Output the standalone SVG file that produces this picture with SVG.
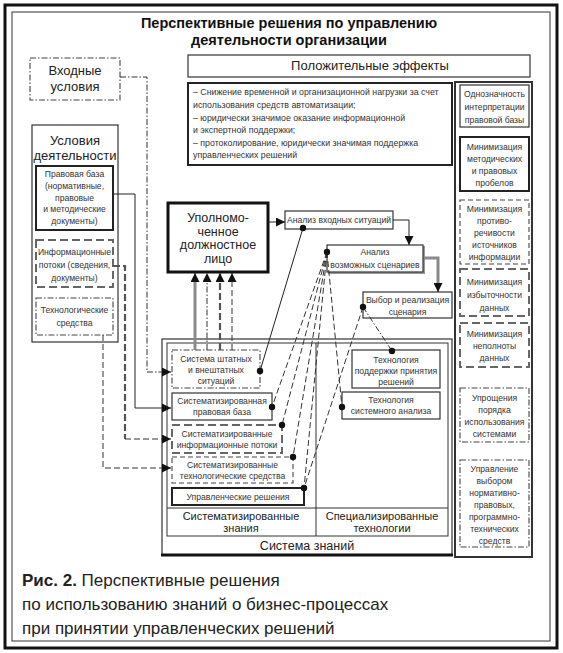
<svg xmlns="http://www.w3.org/2000/svg" width="563" height="653" viewBox="0 0 563 653">
<defs>
<marker id="ah" viewBox="0 0 10 10" refX="10" refY="5" markerWidth="9" markerHeight="9" orient="auto" markerUnits="userSpaceOnUse"><path d="M0,0 L10,5 L0,10 z" fill="#111"/></marker>
<style>
.t{font-family:"Liberation Sans",Arial,sans-serif;fill:#222;text-anchor:middle}
.title{font-family:"Liberation Sans",Arial,sans-serif;font-weight:bold;font-size:14.5px;fill:#111;text-anchor:middle}
.m{font-size:13px}
.u{font-size:12.5px}
.s{font-family:"Liberation Sans",Arial,sans-serif;font-size:8.6px;fill:#333;text-anchor:middle}
.sl{font-family:"Liberation Sans",Arial,sans-serif;font-size:8.8px;fill:#333}
.cap{font-family:"Liberation Sans",Arial,sans-serif;font-size:17px;fill:#222}
.b{fill:#fff;stroke:#333;stroke-width:1.2}
.bt{fill:#fff;stroke:#222;stroke-width:2}
.dd{fill:#fff;stroke:#444;stroke-width:1.1;stroke-dasharray:6 2 1.5 2}
.ds{fill:#fff;stroke:#444;stroke-width:1.1;stroke-dasharray:5 3}
.dk{fill:#fff;stroke:#666;stroke-width:2;stroke-dasharray:8 4}
.c{fill:none;stroke:#222;stroke-width:1}
.cdd{fill:none;stroke:#333;stroke-width:1;stroke-dasharray:6 2 1.5 2}
.cds{fill:none;stroke:#333;stroke-width:1;stroke-dasharray:6 3}
.cdk{fill:none;stroke:#555;stroke-width:2.2;stroke-dasharray:7 3}
.cg{fill:none;stroke:#8a8a8a;stroke-width:3}
.dot{fill:#111}
</style>
</defs>
<rect width="563" height="653" fill="#fff"/>
<g id="frame">
<rect x="5" y="5" width="552" height="643" fill="none" stroke="#111" stroke-width="3"/>
<rect x="12" y="12" width="538" height="629" fill="none" stroke="#333" stroke-width="1"/>
</g>
<g id="title">
<text x="289" y="28" class="title">Перспективные решения по управлению</text>
<text x="289" y="45" class="title">деятельности организации</text>
</g>
<g id="vhodnye">
<rect x="30" y="58" width="90" height="42" class="dd" stroke-width="1.4"/>
<text x="75" y="75" class="t m">Входные</text>
<text x="75" y="91" class="t m">условия</text>
</g>
<g id="polozh">
<rect x="188" y="55" width="342" height="22" class="b"/>
<text x="370" y="70" class="t m">Положительные эффекты</text>
</g>
<g id="effects">
<rect x="188" y="83" width="264" height="82" class="bt"/>
<text x="193" y="95" class="sl">– Снижение временной и организационной нагрузки за счет</text>
<text x="193" y="108" class="sl">использования средств автоматизации;</text>
<text x="193" y="120.5" class="sl">– юридически значимое оказание информационной</text>
<text x="193" y="133" class="sl">и экспертной поддержки;</text>
<text x="193" y="145.5" class="sl">– протоколирование, юридически значимая поддержка</text>
<text x="193" y="158" class="sl">управленческих решений</text>
</g>
<g id="right-column">
<rect x="455" y="82" width="77" height="475" fill="none" stroke="#333" stroke-width="2"/>
</g>
<g id="r1">
<rect x="460" y="85" width="69" height="42" class="b" stroke-width="1.5"/>
<text x="494.5" y="97" class="s">Однозначность</text>
<text x="494.5" y="110" class="s">интерпретации</text>
<text x="494.5" y="123" class="s">правовой базы</text>
</g>
<g id="r2">
<rect x="460" y="137" width="69" height="54" class="bt"/>
<text x="494.5" y="150" class="s">Минимизация</text>
<text x="494.5" y="162" class="s">методических</text>
<text x="494.5" y="174" class="s">и правовых</text>
<text x="494.5" y="186" class="s">пробелов</text>
</g>
<g id="r3">
<rect x="460" y="200" width="69" height="64" class="ds"/>
<text x="494.5" y="212" class="s">Минимизация</text>
<text x="494.5" y="224" class="s">противо-</text>
<text x="494.5" y="236" class="s">речивости</text>
<text x="494.5" y="248" class="s">источников</text>
<text x="494.5" y="260" class="s">информации</text>
</g>
<g id="r4">
<rect x="460" y="269" width="69" height="47" class="dk"/>
<text x="494.5" y="285" class="s">Минимизация</text>
<text x="494.5" y="298" class="s">избыточности</text>
<text x="494.5" y="311" class="s">данных</text>
</g>
<g id="r5">
<rect x="460" y="323" width="69" height="44" class="dk"/>
<text x="494.5" y="337" class="s">Минимизация</text>
<text x="494.5" y="349" class="s">неполноты</text>
<text x="494.5" y="361" class="s">данных</text>
</g>
<g id="r6">
<rect x="460" y="388" width="69" height="54" class="dd"/>
<text x="494.5" y="401" class="s">Упрощения</text>
<text x="494.5" y="413" class="s">порядка</text>
<text x="494.5" y="425" class="s">использования</text>
<text x="494.5" y="437" class="s">системами</text>
</g>
<g id="r7">
<rect x="460" y="460" width="69" height="87" class="dd"/>
<text x="494.5" y="472" class="s">Управление</text>
<text x="494.5" y="484" class="s">выбором</text>
<text x="494.5" y="496" class="s">нормативно-</text>
<text x="494.5" y="508" class="s">правовых,</text>
<text x="494.5" y="520" class="s">программно-</text>
<text x="494.5" y="532" class="s">технических</text>
<text x="494.5" y="544" class="s">средств</text>
</g>
<g id="usloviya">
<rect x="32" y="125" width="86" height="217" class="b" stroke-width="1.5"/>
<text x="75" y="145" class="t m">Условия</text>
<text x="75" y="160" class="t m">деятельности</text>
</g>
<g id="pravbaza">
<rect x="36" y="166" width="77" height="64" class="bt"/>
<text x="74.5" y="177" class="s">Правовая база</text>
<text x="74.5" y="189" class="s">(нормативные,</text>
<text x="74.5" y="200.5" class="s">правовые</text>
<text x="74.5" y="212" class="s">и методические</text>
<text x="74.5" y="223.5" class="s">документы)</text>
</g>
<g id="infpotoki">
<rect x="36" y="240" width="77" height="47" class="dk"/>
<text x="74.5" y="255" class="s">Информационные</text>
<text x="74.5" y="268" class="s">потоки (сведения,</text>
<text x="74.5" y="281" class="s">документы)</text>
</g>
<g id="techsred">
<rect x="36" y="298" width="77" height="37" class="dd"/>
<text x="74.5" y="313" class="s">Технологические</text>
<text x="74.5" y="326" class="s">средства</text>
</g>
<g id="upoln">
<rect x="168" y="203" width="100" height="69" fill="#fff" stroke="#111" stroke-width="3"/>
<text x="218" y="222" class="t u">Уполномо-</text>
<text x="218" y="235.5" class="t u">ченное</text>
<text x="218" y="249" class="t u">должностное</text>
<text x="218" y="262.5" class="t u">лицо</text>
</g>
<g id="analiz-vh">
<rect x="285" y="211" width="108" height="18" class="b"/>
<text x="339" y="223" class="s">Анализ входных ситуаций</text>
</g>
<g id="analiz-voz">
<polyline points="424,246 424,273 328,273" fill="none" stroke="#999" stroke-width="2"/>
<rect x="327" y="245" width="96" height="27" class="b"/>
<text x="375" y="255" class="s">Анализ</text>
<text x="375" y="268" class="s">возможных сценариев</text>
</g>
<g id="vybor">
<rect x="363" y="292" width="89" height="26" class="b" stroke-width="1.5"/>
<text x="407.5" y="303" class="s">Выбор и реализация</text>
<text x="407.5" y="315" class="s">сценария</text>
</g>
<g id="sistema-znaniy">
<rect x="162" y="339" width="290" height="216" fill="none" stroke="#333" stroke-width="1.2"/>
<rect x="167" y="343" width="281" height="193" fill="none" stroke="#333" stroke-width="1"/>
<line x1="316" y1="343" x2="316" y2="536" stroke="#333" stroke-width="1"/>
<line x1="167" y1="508" x2="448" y2="508" stroke="#333" stroke-width="1"/>
<line x1="161" y1="555" x2="453" y2="555" stroke="#111" stroke-width="3"/>
<text x="241" y="520" class="t" font-size="11">Систематизированные</text>
<text x="241" y="532" class="t" font-size="11">знания</text>
<text x="382" y="520" class="t" font-size="11">Специализированные</text>
<text x="382" y="532" class="t" font-size="11">технологии</text>
<text x="307" y="550" class="t" font-size="12.5">Система знаний</text>
</g>
<g id="sys-sit">
<rect x="172" y="350" width="88" height="38" class="dd"/>
<text x="216" y="362" class="s">Система штатных</text>
<text x="216" y="373" class="s">и внештатных</text>
<text x="216" y="384" class="s">ситуаций</text>
</g>
<g id="sys-prav">
<rect x="172" y="393" width="100" height="27" class="b" stroke-width="1.8"/>
<text x="222" y="404" class="s">Систематизированная</text>
<text x="222" y="415" class="s">правовая база</text>
</g>
<g id="sys-inf">
<rect x="172" y="425" width="110" height="28" class="dk"/>
<text x="227" y="437" class="s">Систематизированные</text>
<text x="227" y="448" class="s">информационные потоки</text>
</g>
<g id="sys-tech">
<rect x="172" y="457" width="121" height="26" class="ds"/>
<text x="232.5" y="468" class="s">Систематизированные</text>
<text x="232.5" y="479" class="s">технологические средства</text>
</g>
<g id="upr-resh">
<rect x="172" y="488" width="132" height="17" class="bt"/>
<text x="238" y="500" class="s">Управленческие решения</text>
</g>
<g id="tech-podd">
<rect x="352" y="350" width="88" height="38" class="b" stroke-width="1.5"/>
<text x="396" y="363" class="s">Технология</text>
<text x="396" y="374" class="s">поддержки принятия</text>
<text x="396" y="385" class="s">решений</text>
</g>
<g id="tech-sist">
<rect x="342" y="392" width="98" height="27" class="b"/>
<text x="391" y="403" class="s">Технология</text>
<text x="391" y="414" class="s">системного анализа</text>
</g>
<g id="connectors">
<polyline points="120,77 147,77 147,372 171,372" class="cdd" marker-end="url(#ah)"/>
<polyline points="113,194 135,194 135,408 171,408" class="c" marker-end="url(#ah)"/>
<polyline points="113,266 125,266 125,439" class="cdk"/>
<polyline points="125,439 171,439" class="cds" stroke-width="1.5" marker-end="url(#ah)"/>
<polyline points="103,335 103,468 171,468" class="cds" marker-end="url(#ah)"/>
<line x1="268" y1="222" x2="285" y2="222" class="c" marker-end="url(#ah)"/>
<polyline points="393,220 409,220 409,245" class="c" marker-end="url(#ah)"/>
<polyline points="424,258 438,258 438,284" class="cg"/>
<line x1="438" y1="283" x2="438" y2="292" class="c" marker-end="url(#ah)"/>
<line x1="195" y1="350" x2="195" y2="281" class="cg"/>
<line x1="195" y1="282" x2="195" y2="273" class="c" marker-end="url(#ah)"/>
<line x1="207" y1="350" x2="207" y2="273" class="cdd" marker-end="url(#ah)"/>
<line x1="220" y1="350" x2="220" y2="273" class="cdk" marker-end="url(#ah)"/>
<line x1="232" y1="350" x2="232" y2="273" class="cds" marker-end="url(#ah)"/>
<line x1="303" y1="228" x2="260" y2="371" class="c"/>
<line x1="327" y1="252" x2="272" y2="407" class="cds"/>
<line x1="327" y1="252" x2="282" y2="425" class="cds"/>
<line x1="327" y1="252" x2="293" y2="457" class="cds"/>
<line x1="327" y1="252" x2="304" y2="488" class="cds"/>
<line x1="327" y1="252" x2="342" y2="407" class="cds"/>
<line x1="363" y1="307" x2="304" y2="488" class="cds"/>
<line x1="363" y1="307" x2="392" y2="351" class="cdd"/>
<circle cx="303" cy="228" r="3.2" class="dot"/>
<circle cx="327" cy="252" r="3.2" class="dot"/>
<circle cx="363" cy="307" r="3.2" class="dot"/>
<circle cx="260" cy="371" r="3.2" class="dot"/>
<circle cx="272" cy="407" r="3.2" class="dot"/>
<circle cx="282" cy="425" r="3.2" class="dot"/>
<circle cx="293" cy="457" r="3.2" class="dot"/>
<circle cx="304" cy="488" r="3.2" class="dot"/>
<circle cx="392" cy="351" r="3.2" class="dot"/>
<circle cx="342" cy="407" r="3.2" class="dot"/>
</g>
<g id="caption">
<text x="22" y="586" class="cap"><tspan font-weight="bold">Рис. 2.</tspan> Перспективные решения</text>
<text x="22" y="610" class="cap">по использованию знаний о бизнес-процессах</text>
<text x="22" y="634" class="cap">при принятии управленческих решений</text>
</g>
</svg>
